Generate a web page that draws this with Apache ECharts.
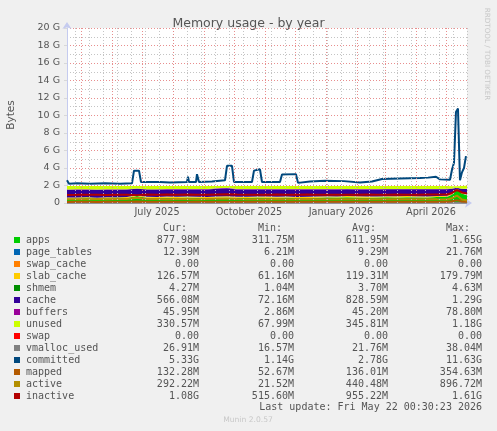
<!DOCTYPE html>
<html>
<head>
<meta charset="utf-8">
<title>Memory usage - by year</title>
<script src="https://cdn.jsdelivr.net/npm/echarts@6/dist/echarts.min.js"></script>
<style>
  html, body { margin: 0; padding: 0; background: #f0f0f0; }
  #chart { width: 497px; height: 431px; }
</style>
</head>
<body>
<div id="chart"></div>
<script>
// sample dates for the stacked areas and the flat lines (values in G)
const dates = [
  '2025-04-17', '2025-04-27', '2025-05-07', '2025-05-17', '2025-05-27', '2025-06-06', '2025-06-16',
  '2025-06-26', '2025-07-06', '2025-07-16', '2025-07-26', '2025-08-05', '2025-08-15', '2025-08-25',
  '2025-09-04', '2025-09-14', '2025-09-24', '2025-10-04', '2025-10-14', '2025-10-24', '2025-11-03',
  '2025-11-13', '2025-11-23', '2025-12-03', '2025-12-13', '2025-12-23', '2026-01-02', '2026-01-12',
  '2026-01-22', '2026-02-01', '2026-02-11', '2026-02-21', '2026-03-03', '2026-03-13', '2026-03-23',
  '2026-04-02', '2026-04-12', '2026-04-22', '2026-05-02', '2026-05-07', '2026-05-12', '2026-05-17',
  '2026-05-22'
];
const apps = [0.52, 0.50, 0.55, 0.48, 0.53, 0.50, 0.56, 0.80, 0.58, 0.55, 0.60, 0.57, 0.62, 0.58, 0.55, 0.60,
  0.63, 0.58, 0.56, 0.62, 0.60, 0.58, 0.61, 0.55, 0.57, 0.60, 0.64, 0.62, 0.66, 0.63, 0.60, 0.62, 0.65, 0.63,
  0.66, 0.64, 0.62, 0.68, 0.70, 0.95, 1.55, 1.05, 0.88];
const pageTables = [0.008, 0.009, 0.009, 0.008, 0.009, 0.009, 0.009, 0.011, 0.009, 0.009, 0.010, 0.009, 0.009,
  0.010, 0.009, 0.009, 0.010, 0.009, 0.009, 0.009, 0.010, 0.009, 0.009, 0.009, 0.010, 0.009, 0.009, 0.010,
  0.009, 0.009, 0.009, 0.010, 0.009, 0.009, 0.010, 0.009, 0.009, 0.010, 0.010, 0.014, 0.021, 0.015, 0.012];
const swapCache = [0, 0, 0, 0, 0, 0, 0, 0, 0, 0, 0, 0, 0, 0, 0, 0, 0, 0, 0, 0, 0, 0, 0, 0, 0, 0, 0, 0, 0, 0,
  0, 0, 0, 0, 0, 0, 0, 0, 0, 0, 0, 0, 0];
const slabCache = [0.11, 0.12, 0.11, 0.12, 0.12, 0.13, 0.12, 0.10, 0.12, 0.12, 0.13, 0.12, 0.12, 0.13, 0.12,
  0.12, 0.12, 0.12, 0.13, 0.12, 0.12, 0.13, 0.12, 0.12, 0.12, 0.12, 0.12, 0.12, 0.12, 0.12, 0.12, 0.12, 0.12,
  0.12, 0.12, 0.12, 0.12, 0.12, 0.12, 0.11, 0.08, 0.12, 0.127];
const shmem = [0.004, 0.004, 0.004, 0.003, 0.004, 0.004, 0.004, 0.004, 0.004, 0.004, 0.004, 0.004, 0.004,
  0.004, 0.004, 0.004, 0.004, 0.004, 0.004, 0.004, 0.004, 0.004, 0.004, 0.004, 0.004, 0.004, 0.004, 0.004,
  0.004, 0.004, 0.004, 0.004, 0.004, 0.004, 0.004, 0.004, 0.004, 0.004, 0.004, 0.004, 0.001, 0.004, 0.004];
const cache = [0.86, 0.88, 0.85, 0.90, 0.86, 0.88, 0.84, 0.70, 0.82, 0.85, 0.80, 0.84, 0.80, 0.82, 0.86, 0.90,
  0.92, 0.84, 0.85, 0.80, 0.82, 0.83, 0.81, 0.86, 0.84, 0.82, 0.78, 0.80, 0.77, 0.79, 0.82, 0.80, 0.78, 0.80,
  0.77, 0.79, 0.81, 0.75, 0.74, 0.55, 0.10, 0.40, 0.566];
const buffers = [0.044, 0.045, 0.046, 0.045, 0.044, 0.046, 0.045, 0.040, 0.046, 0.045, 0.046, 0.045, 0.044,
  0.046, 0.045, 0.047, 0.048, 0.045, 0.046, 0.045, 0.044, 0.046, 0.045, 0.045, 0.046, 0.045, 0.044, 0.045,
  0.046, 0.045, 0.044, 0.045, 0.046, 0.045, 0.045, 0.046, 0.045, 0.046, 0.046, 0.030, 0.005, 0.040, 0.046];
const unused = [0.39, 0.38, 0.37, 0.38, 0.37, 0.37, 0.36, 0.28, 0.36, 0.36, 0.35, 0.35, 0.34, 0.35, 0.35, 0.26,
  0.21, 0.34, 0.34, 0.34, 0.34, 0.34, 0.34, 0.35, 0.35, 0.34, 0.34, 0.34, 0.33, 0.34, 0.34, 0.34, 0.33, 0.33,
  0.33, 0.33, 0.33, 0.33, 0.32, 0.27, 0.15, 0.31, 0.331];
const swap = [0, 0, 0, 0, 0, 0, 0, 0, 0, 0, 0, 0, 0, 0, 0, 0, 0, 0, 0, 0, 0, 0, 0, 0, 0, 0, 0, 0, 0, 0,
  0, 0, 0, 0, 0, 0, 0, 0, 0, 0, 0, 0, 0];
const vmallocUsed = [0.020, 0.021, 0.021, 0.020, 0.021, 0.022, 0.021, 0.022, 0.021, 0.021, 0.022, 0.021, 0.021,
  0.022, 0.021, 0.022, 0.022, 0.021, 0.022, 0.021, 0.022, 0.021, 0.022, 0.022, 0.021, 0.022, 0.022, 0.021,
  0.022, 0.022, 0.021, 0.022, 0.022, 0.022, 0.021, 0.022, 0.022, 0.023, 0.023, 0.030, 0.037, 0.028, 0.026];
const mapped = [0.12, 0.13, 0.13, 0.12, 0.13, 0.14, 0.13, 0.16, 0.14, 0.13, 0.14, 0.13, 0.14, 0.13, 0.14, 0.14,
  0.15, 0.13, 0.14, 0.13, 0.14, 0.13, 0.14, 0.13, 0.14, 0.13, 0.14, 0.13, 0.14, 0.14, 0.13, 0.14, 0.13, 0.14,
  0.14, 0.13, 0.14, 0.14, 0.14, 0.20, 0.33, 0.17, 0.132];
const active = [0.42, 0.44, 0.43, 0.45, 0.44, 0.46, 0.45, 0.60, 0.46, 0.45, 0.44, 0.46, 0.45, 0.44, 0.46, 0.48,
  0.50, 0.45, 0.44, 0.43, 0.44, 0.45, 0.43, 0.44, 0.45, 0.44, 0.43, 0.44, 0.42, 0.43, 0.44, 0.43, 0.42, 0.43,
  0.42, 0.43, 0.44, 0.42, 0.41, 0.55, 0.85, 0.40, 0.29];
const inactive = [0.92, 0.93, 0.95, 0.94, 0.92, 0.95, 0.93, 0.90, 0.96, 0.95, 0.97, 0.94, 0.96, 0.95, 0.94, 0.98,
  1.00, 0.96, 0.95, 0.94, 0.95, 0.96, 0.94, 0.95, 0.96, 0.94, 0.93, 0.95, 0.94, 0.95, 0.96, 0.94, 0.95, 0.96,
  0.94, 0.95, 0.96, 0.97, 0.98, 1.15, 1.50, 1.20, 1.08];

// committed has its own, denser sampling (steps and the May spike)
const commitDates = [
  '2025-04-17', '2025-04-19', '2025-04-27', '2025-05-10', '2025-05-25', '2025-06-09', '2025-06-21', '2025-06-23',
  '2025-06-28', '2025-06-30', '2025-07-19', '2025-07-29', '2025-08-15', '2025-08-16', '2025-08-17', '2025-08-24',
  '2025-08-25', '2025-08-27', '2025-09-09', '2025-09-11', '2025-09-22', '2025-09-24', '2025-09-29', '2025-10-01',
  '2025-10-19', '2025-10-21', '2025-10-27', '2025-10-29', '2025-11-16', '2025-11-18', '2025-12-02', '2025-12-04',
  '2025-12-16', '2025-12-31', '2026-01-19', '2026-01-21', '2026-02-04', '2026-02-16', '2026-02-26', '2026-03-16',
  '2026-04-05', '2026-04-13', '2026-04-21', '2026-04-25', '2026-05-05', '2026-05-07', '2026-05-09', '2026-05-11',
  '2026-05-13', '2026-05-15', '2026-05-17', '2026-05-19', '2026-05-21'
];
const committed = [2.6, 2.2, 2.25, 2.2, 2.25, 2.2, 2.25, 3.7, 3.7, 2.4, 2.4, 2.35, 2.4, 3.0, 2.4, 2.4, 3.3, 2.4,
  2.45, 2.6, 2.6, 4.25, 4.25, 2.4, 2.4, 3.7, 3.85, 2.4, 2.4, 3.25, 3.3, 2.3, 2.45, 2.55, 2.5, 2.3, 2.35, 2.45,
  2.75, 2.8, 2.85, 2.9, 3.0, 2.7, 2.65, 3.8, 4.6, 10.4, 10.8, 2.6, 3.5, 4.0, 5.35];

// grid lines and labels of the time axis
const monthStarts = ['2025-05-01', '2025-06-01', '2025-07-01', '2025-08-01', '2025-09-01', '2025-10-01',
  '2025-11-01', '2025-12-01', '2026-01-01', '2026-02-01', '2026-03-01', '2026-04-01', '2026-05-01'];
const xLabelDates = ['2025-07-16', '2025-10-16', '2026-01-16', '2026-04-16'];
const xLabels = ['July 2025', 'October 2025', 'January 2026', 'April 2026'];

// legend
const names = ['apps', 'page_tables', 'swap_cache', 'slab_cache', 'shmem', 'cache', 'buffers', 'unused', 'swap',
  'vmalloc_used', 'committed', 'mapped', 'active', 'inactive'];
const colors = ['#00CC00', '#0066B3', '#FF8000', '#FFCC00', '#008F00', '#330099', '#990099', '#CCFF00', '#FF0000',
  '#808080', '#00487D', '#B35A00', '#B38F00', '#B30000'];
const curVals = ['877.98M', '12.39M', '0.00', '126.57M', '4.27M', '566.08M', '45.95M', '330.57M', '0.00',
  '26.91M', '5.33G', '132.28M', '292.22M', '1.08G'];
const minVals = ['311.75M', '6.21M', '0.00', '61.16M', '1.04M', '72.16M', '2.86M', '67.99M', '0.00',
  '16.57M', '1.14G', '52.67M', '21.52M', '515.60M'];
const avgVals = ['611.95M', '9.29M', '0.00', '119.31M', '3.70M', '828.59M', '45.20M', '345.81M', '0.00',
  '21.76M', '2.78G', '136.01M', '440.48M', '955.22M'];
const maxVals = ['1.65G', '21.76M', '0.00', '179.79M', '4.63M', '1.29G', '78.80M', '1.18G', '0.00',
  '38.04M', '11.63G', '354.63M', '896.72M', '1.61G'];

const t = s => new Date(s + 'T00:00:00').getTime();
const startT = t('2025-04-17');
const endT = new Date('2026-05-22T00:30:00').getTime();

// minor (grey) vertical grid, every two weeks
const minorDays = [];
for (let d = t('2025-04-25'); d < endT; d += 14 * 86400000) minorDays.push(d);

const stackSeries = [apps, pageTables, swapCache, slabCache, shmem, cache, buffers, unused, swap];
const lineSeries = [vmallocUsed, null, mapped, active, inactive];

const mono = '"DejaVu Sans Mono", monospace';
const sans = '"DejaVu Sans", sans-serif';
const textCol = '#555';

const series = [];
// grid lines under the data
series.push({
  type: 'line', data: [], z: 1, silent: true,
  markLine: {
    silent: true, symbol: ['none', 'none'], label: { show: false }, animation: false,
    lineStyle: { color: 'rgba(190,190,190,0.9)', type: [1, 2], width: 1 },
    data: minorDays.map(d => ({ xAxis: d }))
  }
});
series.push({
  type: 'line', data: [], z: 1, silent: true,
  markLine: {
    silent: true, symbol: ['none', 'none'], label: { show: false }, animation: false,
    lineStyle: { color: 'rgba(230,130,130,0.9)', type: [1, 2], width: 1 },
    data: monthStarts.map(d => ({ xAxis: t(d) }))
  }
});
// value first, time second, so the stack adds up the values and not the timestamps
stackSeries.forEach((vals, i) => {
  series.push({
    name: names[i], type: 'line', stack: 'mem', z: 2,
    symbol: 'none', lineStyle: { width: 0 },
    areaStyle: { color: colors[i], opacity: 1 },
    encode: { x: 1, y: 0 },
    data: vals.map((v, k) => [v, t(dates[k])])
  });
});
lineSeries.forEach((vals, j) => {
  const i = 9 + j;
  const data = vals
    ? vals.map((v, k) => [t(dates[k]), v])
    : committed.map((v, k) => [t(commitDates[k]), v]);
  series.push({
    name: names[i], type: 'line', z: 3, symbol: 'none',
    lineStyle: { width: 2, color: colors[i] },
    data: data
  });
});

// legend block drawn as text
const graphic = [];
const rowY0 = 240, rowH = 12;
const colRight = [199, 294, 388, 482];
['Cur:', 'Min:', 'Avg:', 'Max:'].forEach((h, c) => {
  graphic.push({ type: 'text', x: colRight[c] - 12, y: 228,
    style: { text: h, font: '10px ' + mono, fill: textCol, textAlign: 'right', textVerticalAlign: 'middle' } });
});
names.forEach((n, i) => {
  const y = rowY0 + i * rowH;
  graphic.push({ type: 'rect', shape: { x: 14, y: y - 3, width: 6, height: 6 }, style: { fill: colors[i] } });
  graphic.push({ type: 'text', x: 26, y: y,
    style: { text: n, font: '10px ' + mono, fill: textCol, textVerticalAlign: 'middle' } });
  [curVals, minVals, avgVals, maxVals].forEach((arr, c) => {
    graphic.push({ type: 'text', x: colRight[c], y: y,
      style: { text: arr[i], font: '10px ' + mono, fill: textCol, textAlign: 'right', textVerticalAlign: 'middle' } });
  });
});
graphic.push({ type: 'text', x: 482, y: 407,
  style: { text: 'Last update: Fri May 22 00:30:23 2026', font: '10px ' + mono, fill: textCol,
    textAlign: 'right', textVerticalAlign: 'middle' } });
graphic.push({ type: 'text', x: 248, y: 420,
  style: { text: 'Munin 2.0.57', font: '7.6px ' + sans, fill: '#c8c8c8', textAlign: 'center', textVerticalAlign: 'middle' } });
graphic.push({ type: 'text', x: 11, y: 115, rotation: Math.PI / 2,
  style: { text: 'Bytes', font: '10.5px ' + sans, fill: textCol, textAlign: 'center', textVerticalAlign: 'middle' } });
graphic.push({ type: 'text', x: 487, y: 54, rotation: -Math.PI / 2,
  style: { text: 'RRDTOOL / TOBI OETIKER', font: '7.2px ' + sans, fill: '#c8c8c8', textAlign: 'center', textVerticalAlign: 'middle' } });

const xLabelTimes = xLabelDates.map(t);
const axisCol = '#c5cbef';

const chart = echarts.init(document.getElementById('chart'), null, { renderer: 'canvas' });
chart.setOption({
  animation: false,
  backgroundColor: '#f0f0f0',
  title: {
    text: 'Memory usage - by year', left: 'center', top: 12,
    textStyle: { fontFamily: sans, fontSize: 12.5, fontWeight: 'normal', color: textCol }
  },
  grid: { left: 67, right: 30, top: 28, bottom: 228, show: true, backgroundColor: '#fff', borderWidth: 0 },
  xAxis: {
    type: 'value', min: startT, max: endT, scale: true,
    axisLine: { show: true, lineStyle: { color: axisCol, width: 1 }, symbol: ['none', 'arrow'], symbolSize: [7, 7], symbolOffset: [0, 5] },
    axisTick: { show: false },
    splitLine: { show: false },
    axisLabel: {
      customValues: xLabelTimes, margin: 4,
      fontFamily: sans, fontSize: 9.7, color: textCol,
      formatter: v => xLabels[xLabelTimes.indexOf(v)] || ''
    }
  },
  yAxis: {
    type: 'value', min: 0, max: 20, interval: 2,
    axisLine: { show: true, lineStyle: { color: axisCol, width: 1 }, symbol: ['none', 'arrow'], symbolSize: [7, 7], symbolOffset: [0, 6] },
    axisTick: { show: true, length: 3, lineStyle: { color: '#d8d8d8' } },
    axisLabel: {
      margin: 7, fontFamily: sans, fontSize: 9.5, color: textCol,
      formatter: v => v === 0 ? '0' : v + ' G'
    },
    splitLine: { show: true, lineStyle: { color: 'rgba(230,130,130,0.9)', type: [1, 2], width: 1 } },
    minorTick: { show: false, splitNumber: 2 },
    minorSplitLine: { show: true, lineStyle: { color: 'rgba(190,190,190,0.9)', type: [1, 2], width: 1 } }
  },
  series: series,
  graphic: graphic
});
</script>
</body>
</html>
